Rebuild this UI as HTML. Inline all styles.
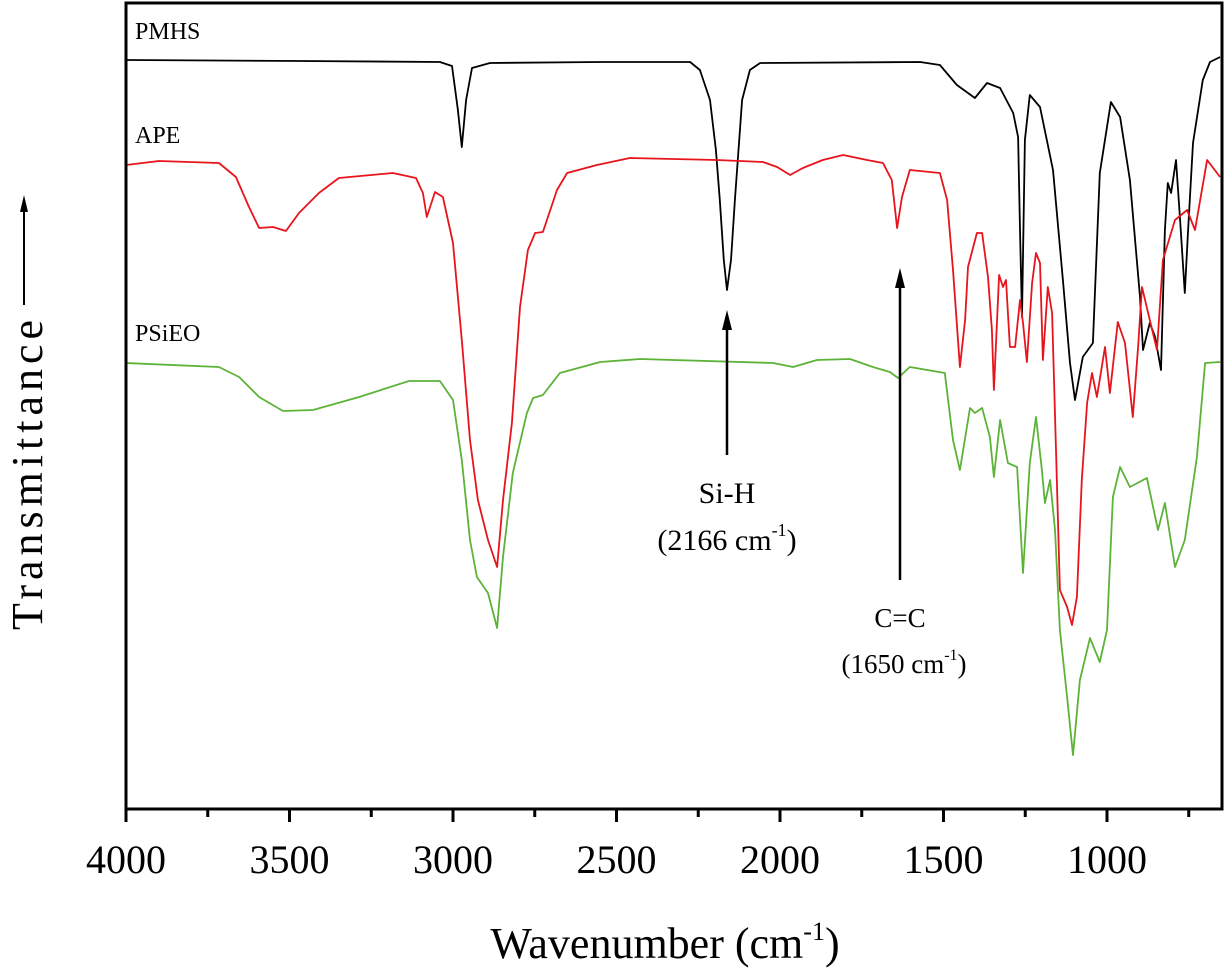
<!DOCTYPE html>
<html><head><meta charset="utf-8"><style>
html,body{margin:0;padding:0;background:#fff;}
svg{display:block;font-family:"Liberation Serif",serif;}
</style></head><body>
<svg id="chart" width="1225" height="974" viewBox="0 0 1225 974" xmlns="http://www.w3.org/2000/svg">
<g id="series"></g>
<rect x="126" y="3" width="1096" height="806" fill="none" stroke="#000" stroke-width="3"/>
<g id="ticks"></g>
<text x="135" y="39" font-size="24">PMHS</text>
<text x="135" y="143" font-size="24">APE</text>
<text x="135" y="341" font-size="24">PSiEO</text>
<g>
<line x1="727" y1="322" x2="727" y2="455" stroke="#000" stroke-width="2.5"/>
<polygon points="727,310 722,330 732,330" fill="#000"/>
<text x="727" y="503" font-size="30" text-anchor="middle">Si-H</text>
<text x="727" y="550" font-size="30" text-anchor="middle">(2166 cm<tspan font-size="18" dy="-14">-1</tspan><tspan dy="14">)</tspan></text>
</g>
<g>
<line x1="900" y1="280" x2="900" y2="580" stroke="#000" stroke-width="2.5"/>
<polygon points="900,268 895,288 905,288" fill="#000"/>
<text x="900" y="627" font-size="27" text-anchor="middle">C=C</text>
<text x="904" y="673" font-size="27" text-anchor="middle">(1650 cm<tspan font-size="16" dy="-13">-1</tspan><tspan dy="13">)</tspan></text>
</g>
<g>
<line x1="24" y1="205" x2="24" y2="305" stroke="#000" stroke-width="2"/>
<polygon points="24,195 20,212 28,212" fill="#000"/>
<text transform="translate(42,475) rotate(-90)" font-size="44" text-anchor="middle" textLength="310">Transmittance</text>
</g>
<text x="665" y="958" font-size="44" text-anchor="middle">Wavenumber (cm<tspan font-size="26" dy="-18">-1</tspan><tspan dy="18">)</tspan></text>
</svg>
<script>
const tickValues = [4000, 3500, 3000, 2500, 2000, 1500, 1000];
const minorTickValues = [3750, 3250, 2750, 2250, 1750, 1250, 750];
const pmhsW = [4000,3468,3040,3003,2985,2973,2960,2942,2887,2550,2275,2245,2214,2196,2184,2172,2162,2150,2138,2116,2092,2061,1572,1511,1459,1404,1367,1327,1287,1272,1266,1260,1251,1236,1205,1165,1135,1113,1098,1074,1043,1022,988,960,930,899,890,869,853,835,823,814,804,789,777,762,752,737,707,685,654];
const pmhsT = [749,748,747,743,699,662,709,741,746,747,747,739,709,659,609,549,519,549,609,709,739,746,747,744,724,711,726,721,696,672,579,492,669,714,702,639,529,446,409,452,466,636,707,692,629,512,459,486,472,439,579,626,616,649,592,516,579,666,729,747,752];
const apeW = [4000,3899,3716,3664,3624,3593,3550,3511,3471,3410,3349,3184,3113,3092,3080,3055,3031,3000,2973,2948,2924,2893,2865,2847,2820,2795,2771,2749,2725,2682,2651,2560,2459,2193,2052,2009,1969,1930,1869,1807,1734,1685,1658,1642,1627,1603,1511,1489,1471,1450,1434,1425,1398,1382,1364,1352,1346,1330,1318,1309,1297,1281,1266,1257,1245,1229,1217,1205,1196,1181,1168,1156,1144,1122,1107,1092,1077,1061,1046,1031,1006,991,967,945,921,905,893,869,847,829,792,755,731,694,654];
const apeT = [644,648,646,632,602,581,582,578,596,616,631,636,631,616,592,617,612,566,469,369,309,269,242,309,386,502,559,576,577,619,636,644,651,649,647,642,634,641,649,654,649,646,629,581,612,639,636,609,539,442,489,542,576,576,532,479,419,534,522,529,462,462,509,486,447,526,556,546,449,522,496,359,219,202,184,212,329,406,436,412,462,416,487,466,392,462,522,489,459,549,589,599,579,649,632];
const psieoW = [4000,3716,3654,3593,3520,3428,3287,3135,3040,3000,2973,2948,2927,2893,2865,2847,2817,2774,2755,2725,2673,2550,2428,2021,1960,1887,1786,1716,1664,1639,1603,1496,1471,1450,1419,1404,1382,1358,1346,1327,1303,1275,1257,1236,1217,1199,1190,1174,1159,1144,1122,1104,1083,1052,1022,1000,982,960,930,878,844,823,792,762,725,700,654];
const psieoT = [446,442,432,412,398,399,412,428,428,409,349,269,232,216,181,252,336,396,411,414,436,447,450,446,442,449,450,442,437,431,442,436,369,339,401,396,401,372,332,389,346,342,236,346,392,339,306,329,279,179,112,54,129,171,147,179,312,342,322,331,279,306,242,269,352,446,447];

function xScale(w){ return 126 + (4000 - w) * 0.327; }
function yScale(t){ return 809 - t; }
const NS = "http://www.w3.org/2000/svg";
const seriesG = document.getElementById('series');
function drawSeries(ws, ts, color, name){
  let d = '';
  for (let i = 0; i < ws.length; i++) d += (i ? 'L' : 'M') + xScale(ws[i]).toFixed(1) + ',' + yScale(ts[i]).toFixed(1);
  const p = document.createElementNS(NS, 'path');
  p.setAttribute('d', d);
  p.setAttribute('fill', 'none');
  p.setAttribute('stroke', color);
  p.setAttribute('stroke-width', '1.8');
  p.setAttribute('stroke-linejoin', 'round');
  
  
  seriesG.appendChild(p);
}
drawSeries(pmhsW, pmhsT, '#000000', 'pmhs-line');
drawSeries(apeW, apeT, '#e8141b', 'ape-line');
drawSeries(psieoW, psieoT, '#5cb338', 'psieo-line');

const tg = document.getElementById('ticks');
tickValues.forEach(v => {
  const x = xScale(v);
  const l = document.createElementNS(NS, 'line');
  l.setAttribute('x1', x); l.setAttribute('x2', x);
  l.setAttribute('y1', 809); l.setAttribute('y2', 822);
  l.setAttribute('stroke', '#000'); l.setAttribute('stroke-width', '3');
  
  
  tg.appendChild(l);
  const t = document.createElementNS(NS, 'text');
  t.setAttribute('x', x); t.setAttribute('y', 873);
  t.setAttribute('font-size', '40');
  t.setAttribute('text-anchor', 'middle');
  t.textContent = v;
  
  
  tg.appendChild(t);
});
minorTickValues.forEach(v => {
  const x = xScale(v);
  if (x > 1222) return;
  const l = document.createElementNS(NS, 'line');
  l.setAttribute('x1', x); l.setAttribute('x2', x);
  l.setAttribute('y1', 809); l.setAttribute('y2', 817);
  l.setAttribute('stroke', '#000'); l.setAttribute('stroke-width', '3');
  
  
  tg.appendChild(l);
});
</script>
</body></html>
